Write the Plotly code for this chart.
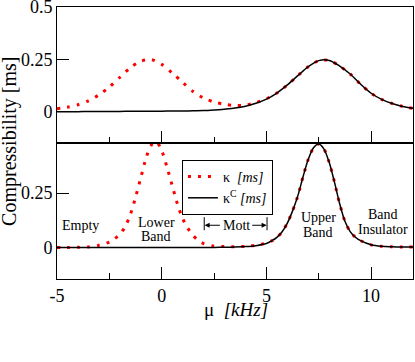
import plotly.graph_objects as go

# ---------------- data ----------------
mu_top = [-5.0, -4.5, -4.0, -3.5, -3.0, -2.5, -2.0, -1.5, -1.0, -0.5, 0.0, 0.5, 1.0, 1.5,
          2.0, 2.5, 3.0, 3.5, 4.0, 4.5, 5.0, 5.5, 6.0, 6.5, 7.0, 7.5, 8.0, 8.5, 9.0, 9.5,
          10.0, 10.5, 11.0, 11.5, 12.0]
kappa_top = [0.014, 0.021, 0.033, 0.052, 0.080, 0.118, 0.164, 0.210, 0.241, 0.249, 0.226,
             0.185, 0.140, 0.096, 0.065, 0.046, 0.035, 0.029, 0.031, 0.043, 0.062, 0.089,
             0.128, 0.172, 0.215, 0.244, 0.245, 0.218, 0.180, 0.131, 0.088, 0.059, 0.039,
             0.025, 0.016]
kappaC_top = [0.000, 0.000, 0.000, 0.001, 0.001, 0.001, 0.001, 0.002, 0.002, 0.002, 0.002,
              0.003, 0.003, 0.004, 0.005, 0.008, 0.012, 0.017, 0.026, 0.040, 0.060, 0.089,
              0.128, 0.172, 0.215, 0.244, 0.245, 0.218, 0.180, 0.131, 0.088, 0.059, 0.039,
              0.025, 0.016]

mu_bot = [-5.0, -4.5, -4.0, -3.5, -3.0, -2.5, -2.25, -2.0, -1.75, -1.5, -1.25, -1.0, -0.75,
          -0.5, -0.25, 0.0, 0.25, 0.5, 0.75, 1.0, 1.25, 1.5, 1.75, 2.0, 2.5, 3.0, 3.5, 4.0,
          4.5, 5.0, 5.25, 5.5, 5.75, 6.0, 6.25, 6.5, 6.75, 7.0, 7.25, 7.5, 7.75, 8.0, 8.25,
          8.5, 8.75, 9.0, 9.25, 9.5, 10.0, 10.5, 11.0, 11.5, 12.0]
kappa_bot = [0.000, 0.000, 0.001, 0.002, 0.010, 0.025, 0.040, 0.060, 0.095, 0.150, 0.230,
             0.320, 0.410, 0.470, 0.485, 0.445, 0.370, 0.285, 0.200, 0.133, 0.088, 0.055,
             0.032, 0.018, 0.006, 0.004, 0.003, 0.005, 0.010, 0.020, 0.030, 0.046, 0.072,
             0.112, 0.168, 0.237, 0.325, 0.405, 0.458, 0.475, 0.452, 0.390, 0.300, 0.200,
             0.120, 0.073, 0.047, 0.031, 0.012, 0.005, 0.003, 0.002, 0.002]
kappaC_bot = [0.000, 0.000, 0.000, 0.000, 0.000, 0.000, 0.000, 0.000, 0.000, 0.000, 0.000,
              0.000, 0.000, 0.000, 0.000, 0.000, 0.000, 0.000, 0.000, 0.000, 0.000, 0.000,
              0.000, 0.000, 0.000, 0.001, 0.002, 0.004, 0.008, 0.018, 0.030, 0.046, 0.072,
              0.112, 0.168, 0.237, 0.325, 0.405, 0.458, 0.475, 0.452, 0.390, 0.300, 0.200,
              0.120, 0.073, 0.047, 0.031, 0.012, 0.005, 0.003, 0.002, 0.002]

x_ticks = [-5, 0, 5, 10]
x_ticktext = ["-5", "0", "5", "10"]
y_top_ticks = [0, 0.25, 0.5]
y_top_ticktext = ["0", "0.25", "0.5"]
y_bot_ticks = [0, 0.25]
y_bot_ticktext = ["0", "0.25"]

name_kappa = "κ  <i>[ms]</i>"
name_kappaC = "κ<sup>C</sup> <i>[ms]</i>"

# ---------------- figure ----------------
SERIF = "Liberation Serif, DejaVu Serif, serif"
RED = "#ff0000"
dotted = dict(color=RED, width=3, dash="3px,7px", shape="spline", smoothing=0.8)
solid = dict(color="black", width=1.5, shape="spline", smoothing=0.8)

fig = go.Figure()
fig.add_trace(go.Scatter(x=mu_bot, y=kappa_bot, mode="lines", line=dotted,
                         name=name_kappa, xaxis="x", yaxis="y"))
fig.add_trace(go.Scatter(x=mu_bot, y=kappaC_bot, mode="lines", line=solid,
                         name=name_kappaC, xaxis="x", yaxis="y"))
fig.add_trace(go.Scatter(x=mu_top, y=kappa_top, mode="lines", line=dotted,
                         showlegend=False, xaxis="x2", yaxis="y2"))
fig.add_trace(go.Scatter(x=mu_top, y=kappaC_top, mode="lines", line=solid,
                         showlegend=False, xaxis="x2", yaxis="y2"))

axis_common = dict(showline=True, linecolor="black", linewidth=1, mirror=True,
                   showgrid=False, zeroline=False, ticks="inside", tickcolor="black",
                   tickwidth=1, automargin=False, ticklabeloverflow="allow",
                   tickfont=dict(family=SERIF, size=18, color="black"))

fig.update_layout(
    width=415, height=362,
    margin=dict(l=57, r=2, t=7, b=83, autoexpand=False),
    paper_bgcolor="white", plot_bgcolor="white",
    font=dict(family=SERIF, color="black"),
    xaxis=dict(domain=[0, 1], anchor="y", range=[-5, 12], tickvals=x_ticks,
               ticktext=x_ticktext, ticklen=12,
               minor=dict(ticks="inside", ticklen=6, dtick=2.5, tick0=-5,
                          tickcolor="black"),
               **axis_common),
    xaxis2=dict(domain=[0, 1], anchor="y2", range=[-5, 12], tickvals=x_ticks,
                showticklabels=False, ticklen=12,
                minor=dict(ticks="inside", ticklen=6, dtick=2.5, tick0=-5,
                           tickcolor="black"),
                **axis_common),
    yaxis=dict(domain=[0, 0.5], anchor="x", range=[-0.145, 0.48], tickvals=y_bot_ticks,
               ticktext=y_bot_ticktext, ticklen=12, **axis_common),
    yaxis2=dict(domain=[0.5, 1], anchor="x2", range=[-0.15, 0.5005], tickvals=y_top_ticks,
                ticktext=y_top_ticktext, ticklen=12, **axis_common),
    legend=dict(x=0.351, y=0.4375, xanchor="left", yanchor="top",
                bordercolor="black", borderwidth=1, bgcolor="white",
                font=dict(family=SERIF, size=14, color="black"),
                tracegroupgap=0, itemwidth=30),
    showlegend=True,
)

ann_font = dict(family=SERIF, size=14, color="black")
labels = [
    ("Empty", -4.86, 0.102, "left"),
    ("Lower", -0.27, 0.116, "center"),
    ("Band", -0.27, 0.051, "center"),
    ("Mott", 3.55, 0.102, "center"),
    ("Upper", 7.47, 0.139, "center"),
    ("Band", 7.47, 0.069, "center"),
    ("Band", 10.57, 0.153, "center"),
    ("Insulator", 10.57, 0.083, "center"),
]
for txt, xx, yy, anc in labels:
    fig.add_annotation(x=xx, y=yy, xref="x", yref="y", text=txt, showarrow=False,
                       xanchor=anc, yanchor="middle", font=ann_font)

for head, tail in [(2.05, 2.85), (5.01, 4.25)]:
    fig.add_annotation(x=head, y=0.102, ax=tail, ay=0.102, xref="x", yref="y",
                       axref="x", ayref="y", text="", showarrow=True,
                       arrowhead=2, arrowsize=1, arrowwidth=1, arrowcolor="black",
                       standoff=0, startstandoff=0)
for xb in [2.03, 5.03]:
    fig.add_shape(type="line", x0=xb, x1=xb, y0=0.079, y1=0.139, xref="x", yref="y",
                  line=dict(color="black", width=1))

fig.add_annotation(x=-0.132, y=0.504, xref="paper", yref="paper",
                   text="Compressibility [ms]", textangle=-90, showarrow=False,
                   xanchor="center", yanchor="middle",
                   font=dict(family=SERIF, size=20, color="black"))
fig.add_annotation(x=0.503, y=-0.111, xref="paper", yref="paper",
                   text="μ  <i>[kHz]</i>", showarrow=False,
                   xanchor="center", yanchor="middle",
                   font=dict(family=SERIF, size=19, color="black"))

fig.write_html("out.html", config={"displayModeBar": False},
               post_script="document.body.style.margin='0';document.body.style.padding='0';")
